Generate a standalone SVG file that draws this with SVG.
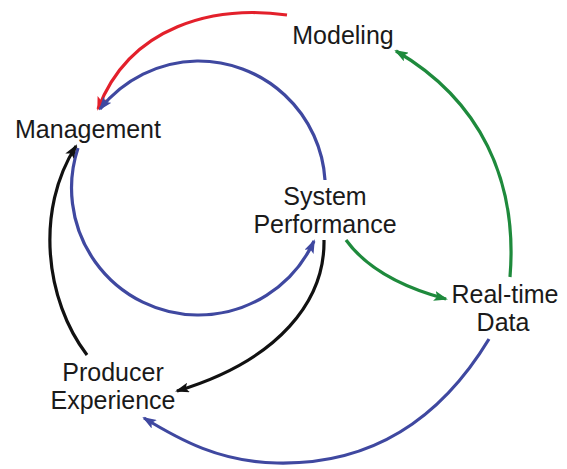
<svg xmlns="http://www.w3.org/2000/svg" width="567" height="469" viewBox="0 0 567 469">
<style>
.lbl{font-family:"Liberation Sans",Arial,sans-serif;font-size:25px;fill:#1a1a1a;text-anchor:middle}
.c{fill:none;stroke-width:3.2;stroke-linecap:butt}
.red{stroke:#e3202b}.blue{stroke:#3f48a0}.green{stroke:#1e8a3c}.black{stroke:#111}
</style>
<defs>
<marker id="ar" viewBox="0 0 14 10" refX="12" refY="5" markerWidth="14" markerHeight="10" markerUnits="userSpaceOnUse" orient="auto"><path d="M0,0 L14,5 L0,10 L3,5 z" fill="#e3202b"/></marker>
<marker id="ab" viewBox="0 0 14 10" refX="12" refY="5" markerWidth="14" markerHeight="10" markerUnits="userSpaceOnUse" orient="auto"><path d="M0,0 L14,5 L0,10 L3,5 z" fill="#3f48a0"/></marker>
<marker id="ag" viewBox="0 0 14 10" refX="12" refY="5" markerWidth="14" markerHeight="10" markerUnits="userSpaceOnUse" orient="auto"><path d="M0,0 L14,5 L0,10 L3,5 z" fill="#1e8a3c"/></marker>
<marker id="ak" viewBox="0 0 14 10" refX="12" refY="5" markerWidth="14" markerHeight="10" markerUnits="userSpaceOnUse" orient="auto"><path d="M0,0 L14,5 L0,10 L3,5 z" fill="#111"/></marker>
</defs>
<g id="connectors">
<path class="c red" d="M287,15 C215,5 130,25 98,109" marker-end="url(#ar)"/>
<path class="c blue" d="M325,180 A127,127 0 0 0 197,61 A127,127 0 0 0 100,109" marker-end="url(#ab)"/>
<path class="c blue" d="M78,148 A127,127 0 0 0 197,315 A127,127 0 0 0 314,241" marker-end="url(#ab)"/>
<path class="c black" d="M324,240 C325,300 280,360 177,391" marker-end="url(#ak)"/>
<path class="c black" d="M87,355 C45,300 35,210 76,146" marker-end="url(#ak)"/>
<path class="c green" d="M346,240 Q375,280 446,299" marker-end="url(#ag)"/>
<path class="c green" d="M510,277 C518,180 480,100 396,51" marker-end="url(#ag)"/>
<path class="c blue" d="M489,339 C440,420 370,465 277,463 C220,462 180,440 144,418" marker-end="url(#ab)"/>
</g>
<g id="modeling"><text class="lbl" x="343" y="44">Modeling</text></g>
<g id="management"><text class="lbl" x="88" y="138">Management</text></g>
<g id="system-performance"><text class="lbl" x="325" y="205">System</text><text class="lbl" x="325" y="233">Performance</text></g>
<g id="real-time-data"><text class="lbl" x="505" y="303">Real-time</text><text class="lbl" x="503" y="331">Data</text></g>
<g id="producer-experience"><text class="lbl" x="113" y="381">Producer</text><text class="lbl" x="113" y="409">Experience</text></g>
</svg>
